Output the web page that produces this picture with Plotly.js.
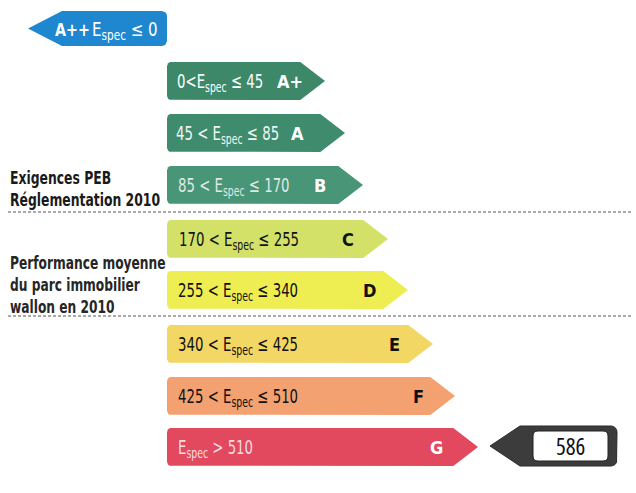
<!DOCTYPE html>
<html>
<head>
<meta charset="utf-8">
<script src="https://cdn.plot.ly/plotly-3.0.1.min.js"></script>
<style>html,body{margin:0;padding:0;background:#fff;}#chart{width:636px;height:493px;}
#chart text{font-stretch:condensed;}</style>
</head>
<body>
<div id="chart"></div>
<script>
// ---- data ----
const classes = ['A++', 'A+', 'A', 'B', 'C', 'D', 'E', 'F', 'G'];
const lowerBounds = [null, 0, 45, 85, 170, 255, 340, 425, 510];
const upperBounds = [0, 45, 85, 170, 255, 340, 425, 510, null];
const rangeLabels = [
  'E<sub>spec</sub> ≤ 0',
  '0<E<sub>spec</sub> ≤ 45',
  '45 < E<sub>spec</sub> ≤ 85',
  '85 < E<sub>spec</sub> ≤ 170',
  '170 < E<sub>spec</sub> ≤ 255',
  '255 < E<sub>spec</sub> ≤ 340',
  '340 < E<sub>spec</sub> ≤ 425',
  '425 < E<sub>spec</sub> ≤ 510',
  'E<sub>spec</sub> > 510'
];
const groupLabels = ['Exigences PEB<br>Réglementation 2010', 'Performance moyenne<br>du parc immobilier<br>wallon en 2010'];
const buildingValue = 586;

// ---- styling / geometry (diagram layout, pixel units) ----
const fills = ['#1e87cf', '#3c8869', '#3e8b6d', '#489578', '#d3e169', '#eeee52', '#f3d765', '#f3a171', '#e2485e'];
const textColors = ['#ffffff', '#ffffff', '#ffffff', '#ffffff', '#111111', '#111111', '#111111', '#111111', '#ffffff'];
const rangeColors = ['#ffffff', '#ffffff', '#f2f6f3', '#dfeae3', '#111111', '#111111', '#111111', '#111111', '#f6dde0'];
const rowCenter = [29, 81, 133, 185, 239, 290, 344, 396, 447];
const rowHalf = 19;
const barLeft = 167;
const barTip = [28, 325, 345, 363, 388, 408, 433, 455, 478];
const letterX = [53, 290, 297, 320, 348, 369, 394, 418, 436];
const rangeX = [90, 175, 174, 176, 177, 176, 176, 176, 176];
const FONT = 'DejaVu Sans Condensed, DejaVu Sans, sans-serif';

function rounded(cx, cy, r, a0, a1) {
  const pts = [];
  for (let k = 0; k <= 4; k++) {
    const a = a0 + (a1 - a0) * k / 4;
    pts.push([cx + r * Math.cos(a), cy + r * Math.sin(a)]);
  }
  return pts;
}
function rightArrow(x0, tip, y0, y1, r) {
  const h = y1 - y0, ym = (y0 + y1) / 2, x1 = tip - h * 0.65;
  let pts = [];
  pts = pts.concat(rounded(x0 + r, y0 + r, r, Math.PI, 1.5 * Math.PI));
  pts.push([x1, y0], [tip, ym], [x1, y1]);
  pts = pts.concat(rounded(x0 + r, y1 - r, r, 0.5 * Math.PI, Math.PI));
  pts.push(pts[0]);
  return pts;
}
function leftArrow(tip, x1, y0, y1, r, depth) {
  const ym = (y0 + y1) / 2, x0 = tip + depth;
  let pts = [[tip, ym], [x0, y0]];
  pts = pts.concat(rounded(x1 - r, y0 + r, r, -0.5 * Math.PI, 0));
  pts = pts.concat(rounded(x1 - r, y1 - r, r, 0, 0.5 * Math.PI));
  pts.push([x0, y1], [tip, ym]);
  return pts;
}

const traces = [];
const annotations = [];
const squeeze = [];   // horizontal compression per annotation (condensed type look)
function addAnn(a, s) { annotations.push(a); squeeze.push(s || 1); }

classes.forEach((c, i) => {
  const y0 = rowCenter[i] - (i === 0 ? 18 : rowHalf), y1 = rowCenter[i] + (i === 0 ? 17 : rowHalf);
  const pts = i === 0 ? leftArrow(barTip[0], barLeft, y0, y1, 5, 34)
                      : rightArrow(barLeft, barTip[i], y0, y1, 4);
  traces.push({
    type: 'scatter', mode: 'lines', fill: 'toself',
    x: pts.map(p => p[0]), y: pts.map(p => p[1]),
    fillcolor: fills[i], line: {width: 0, color: fills[i]},
    hoverinfo: 'skip', showlegend: false
  });
  const ym = rowCenter[i];
  if (i === 0) {
    addAnn({x: letterX[0], y: ym, xref: 'x', yref: 'y', xanchor: 'left', yanchor: 'middle',
      text: '<b>' + c + '</b>', showarrow: false, font: {family: FONT, size: 18, color: textColors[i]}}, 0.88);
    addAnn({x: rangeX[0], y: ym + 1, xref: 'x', yref: 'y', xanchor: 'left', yanchor: 'middle',
      text: rangeLabels[i], showarrow: false, font: {family: FONT, size: 19, color: rangeColors[i]}}, 0.88);
  } else {
    addAnn({x: rangeX[i], y: ym + 1, xref: 'x', yref: 'y', xanchor: 'left', yanchor: 'middle',
      text: rangeLabels[i], showarrow: false, font: {family: FONT, size: 20, color: rangeColors[i]}}, 0.74);
    addAnn({x: letterX[i], y: ym, xref: 'x', yref: 'y', xanchor: 'center', yanchor: 'middle',
      text: '<b>' + c + '</b>', showarrow: false, font: {family: FONT, size: 18, color: textColors[i]}}, 1);
  }
});

// building value indicator (class G row)
const gi = classes.length - 1;
const indPts = leftArrow(490, 617, rowCenter[gi] - 21, rowCenter[gi] + 19, 6, 30);
traces.push({
  type: 'scatter', mode: 'lines', fill: 'toself',
  x: indPts.map(p => p[0]), y: indPts.map(p => p[1]),
  fillcolor: '#3c3c3c', line: {width: 1, color: '#2a2a2a'},
  hoverinfo: 'skip', showlegend: false
});

// group labels
addAnn({x: 8, y: 189, xref: 'x', yref: 'y', xanchor: 'left', yanchor: 'middle', align: 'left',
  text: '<b>' + groupLabels[0] + '</b>', showarrow: false, font: {family: FONT, size: 17, color: '#1a1a1a'}}, 0.81);
addAnn({x: 8, y: 285, xref: 'x', yref: 'y', xanchor: 'left', yanchor: 'middle', align: 'left',
  text: '<b>' + groupLabels[1] + '</b>', showarrow: false, font: {family: FONT, size: 17, color: '#262626'}}, 0.8);
addAnn({x: 570, y: 446, xref: 'x', yref: 'y', xanchor: 'center', yanchor: 'middle',
  text: String(buildingValue), showarrow: false, font: {family: 'Open Sans, DejaVu Sans, sans-serif', size: 23, color: '#111'}}, 1);

const shapes = [
  {type: 'line', xref: 'x', yref: 'y', x0: 8, x1: 632, y0: 212, y1: 212, line: {color: '#555', width: 1, dash: '3px,2px'}},
  {type: 'line', xref: 'x', yref: 'y', x0: 8, x1: 632, y0: 316, y1: 316, line: {color: '#555', width: 1, dash: '3px,2px'}},
  {type: 'path', xref: 'x', yref: 'y',
   path: 'M 538 431 L 603 431 Q 608 431 608 436 L 608 456 Q 608 461 603 461 L 538 461 Q 533 461 533 456 L 533 436 Q 533 431 538 431 Z',
   fillcolor: '#ffffff', line: {color: '#222', width: 1}}
];

const layout = {
  width: 636, height: 493,
  margin: {l: 0, r: 0, t: 0, b: 0},
  paper_bgcolor: '#ffffff', plot_bgcolor: '#ffffff',
  xaxis: {range: [0, 636], visible: false, fixedrange: true},
  yaxis: {range: [493, 0], visible: false, fixedrange: true},
  showlegend: false,
  annotations: annotations,
  shapes: shapes
};
Plotly.newPlot('chart', traces, layout, {staticPlot: true, displayModeBar: false}).then(gd => {
  const nodes = gd.querySelectorAll('g.annotation');
  nodes.forEach((g, k) => {
    const s = squeeze[k];
    if (s === 1) return;
    const t = g.querySelector('text.annotation-text');
    if (!t) return;
    t.style.transformBox = 'fill-box';
    t.style.transformOrigin = '0% 50%';
    t.style.transform = 'scaleX(' + s + ')';
  });
});
</script>
</body>
</html>
